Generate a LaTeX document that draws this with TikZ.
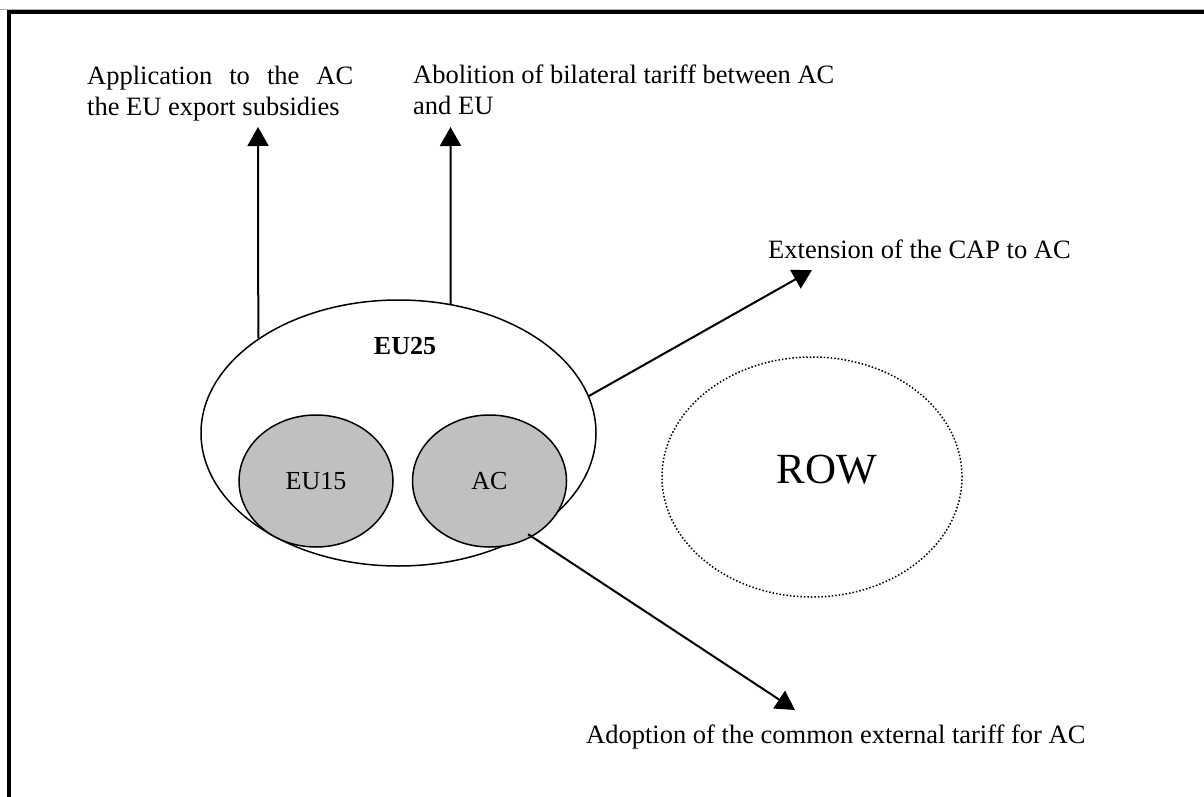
\documentclass[tikz,border=0pt]{standalone}
\usepackage{fontspec}
\setmainfont{Liberation Serif}
\usetikzlibrary{arrows.meta,shapes.geometric}
\begin{document}
\begin{tikzpicture}[x=1pt,y=-1pt,
  lbl/.style={inner sep=0pt, font=\fontsize{26.5}{30.7}\selectfont, align=left},
  ring/.style={draw, ellipse, line width=1.5pt, inner sep=0pt},
  inner/.style={ring, fill=inngray, minimum width=154pt, minimum height=132pt, font=\fontsize{26}{28}\selectfont},
  conn/.style={line width=2pt, -{Triangle[length=19pt,width=21pt]}}
]
\definecolor{inngray}{HTML}{C0C0C0}
\useasboundingbox (0,0) rectangle (1204,797);
% frame
\draw[gray!60, line width=1pt] (0,9.5) -- (1204,9.5);
\draw[line width=4pt] (9,797) -- (9,12.5) -- (1204,12.5);
% ellipses
\node[ring, minimum width=395pt, minimum height=266pt] (eu25) at (398.5,433) {};
\node[font=\bfseries\fontsize{26}{28}\selectfont, inner sep=0pt] (eu25lbl) at (405,346) {EU25};
\node[inner] (eu15) at (316,481) {EU15};
\node[inner] (ac) at (489.5,481) {AC};
\node[draw, ellipse, dotted, line width=1.5pt, minimum width=300pt, minimum height=240pt, inner sep=0pt] (row) at (812,477) {};
\node[inner sep=0pt, font=\fontsize{43}{45}\selectfont] (rowlbl) at (827,470) {ROW};
% labels
\node[lbl, anchor=north west] (l1) at (87,66) {\hbox to 266pt{Application\hfill to\hfill the\hfill AC}\\the EU export subsidies};
\node[lbl, anchor=north west] (l2) at (413,65) {Abolition of bilateral tariff between AC\\and EU};
\node[lbl, anchor=base west] (l3) at (768,258) {Extension of the CAP to AC};
\node[lbl, anchor=base west] (l4) at (586,743) {Adoption of the common external tariff for AC};
% arrow tips
\coordinate (t1) at (258,127);
\coordinate (t2) at (450.5,127);
\coordinate (t3) at (812,270);
\coordinate (t4) at (795,710);
% connectors
\draw[conn] (eu25.146.4) -- (t1);
\draw[conn] (eu25.68) -- (t2);
\draw[conn] (eu25.11.4) -- (t3);
\draw[conn] (eu25.-38.8) -- (t4);
\end{tikzpicture}
\end{document}
